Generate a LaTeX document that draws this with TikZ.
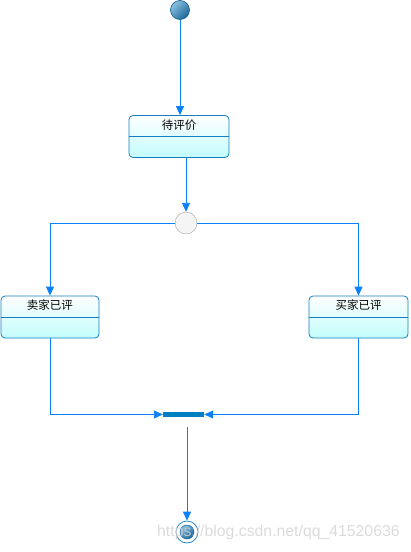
\documentclass[tikz,border=0pt]{standalone}
\usepackage{fontspec}
\newfontfamily\cjk{Noto Sans CJK SC}
\newfontfamily\markfont{Liberation Sans}
\usetikzlibrary{arrows.meta,positioning}
\definecolor{linkblue}{RGB}{10,128,250}
\definecolor{edgeblue}{RGB}{20,125,195}
\definecolor{boxcyan}{RGB}{195,252,252}
\definecolor{barblue}{RGB}{0,128,192}
\definecolor{balldark}{RGB}{25,100,150}
\definecolor{balllight}{RGB}{140,195,225}

\begin{document}
\begin{tikzpicture}[x=1pt, y=-1pt, >={Triangle[length=9pt, width=8pt]},
    flow/.style={draw=linkblue, line width=0.9pt, ->},
    statebox/.style={draw=edgeblue, line width=0.8pt, rounded corners=4pt,
        top color=white, bottom color=boxcyan, minimum height=42pt, inner sep=0pt},
    statetext/.style={font=\cjk\fontsize{11.5}{12}\selectfont, inner sep=0pt},
    ball/.style={circle, draw=balldark, inner sep=0pt,
        top color=balllight, bottom color=balldark, shading angle=45}]
    \useasboundingbox (0,0) rectangle (411,552);

    % 初始状态
    \node[ball, line width=0.7pt, minimum size=19pt] (start) at (180,10) {};

    % 待评价
    \node[statebox, minimum width=100pt] (wait) at (179,136.5) {};
    \draw[edgeblue, line width=0.8pt] (wait.west) -- (wait.east);
    \node[statetext] (waittxt) at (179,125.5) {待评价};

    % 分支
    \node[circle, draw=gray!70, fill=gray!8, minimum size=22pt, inner sep=0pt] (choice) at (186,223) {};

    % 卖家已评 / 买家已评
    \node[statebox, minimum width=98pt] (seller) at (50,317) {};
    \draw[edgeblue, line width=0.8pt] (seller.west) -- (seller.east);
    \node[statetext] (sellertxt) at (50,305.5) {卖家已评};
    \node[statebox, minimum width=99pt] (buyer) at (358.5,317) {};
    \draw[edgeblue, line width=0.8pt] (buyer.west) -- (buyer.east);
    \node[statetext] (buyertxt) at (358.5,305.5) {买家已评};

    % 汇合条
    \node[rectangle, fill=barblue, minimum width=41pt, minimum height=5pt, inner sep=0pt] (bar) at (183.5,414.5) {};

    % 终止状态
    \node[circle, draw=edgeblue, line width=0.7pt, minimum size=22pt, inner sep=0pt] (stop) at (187,532) {};
    \node[ball, line width=0.5pt, minimum size=14pt] (stopdot) at (stop) {};

    % 连线
    \draw[flow] (start) -- (start |- wait.north);
    \draw[flow] (choice |- wait.south) -- (choice.north);
    \draw[flow] (choice.west) -| (seller.north);
    \draw[flow] (choice.east) -| (buyer.north);
    \draw[flow] (seller.south) |- (bar.west);
    \draw[flow] (buyer.south) |- (bar.east);
    \draw[flow] (stop |- bar.south) ++(0,10) -- (stop.north);

    % 水印
    \node[anchor=west, inner sep=0pt, text=gray!35, opacity=0.8,
        font=\markfont\fontsize{15.8}{16}\selectfont] (mark) at (157,532) {https://blog.csdn.net/qq\_41520636};
\end{tikzpicture}
\end{document}
